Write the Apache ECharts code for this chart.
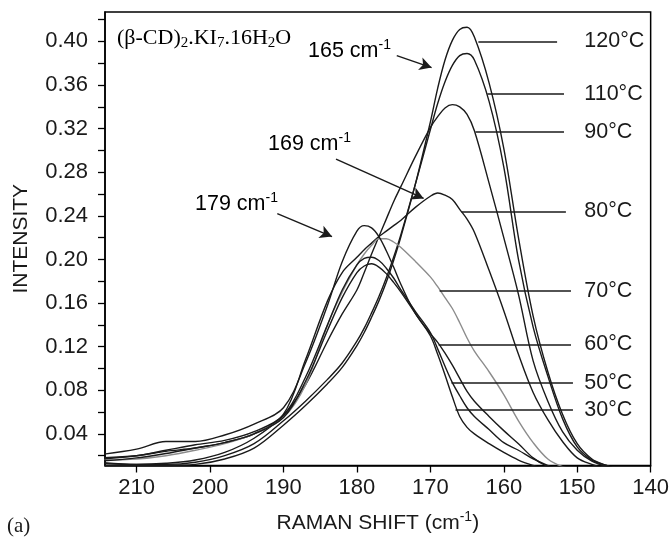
<!DOCTYPE html>
<html>
<head>
<meta charset="utf-8">
<script src="https://cdn.jsdelivr.net/npm/echarts@6/dist/echarts.min.js"></script>
<style>
  html, body { margin: 0; padding: 0; background: #fff; }
  #chart { width: 672px; height: 539px; }
</style>
</head>
<body>
<div id="chart"></div>
<script>
// raman shift grid (cm-1), shared by all curves
const shift = [215, 210, 206, 202, 198, 194, 190, 187, 184, 182, 180, 179, 178, 177, 176, 175, 174, 172, 170, 169, 168, 167, 166, 165, 164, 162, 160, 158, 156, 154, 152, 150, 148, 146, 144];

// intensity, one list per temperature
const t120 = [0.011, 0.011, 0.011, 0.012, 0.017, 0.027, 0.048, 0.066, 0.086, 0.101, 0.121, 0.133, 0.147, 0.162, 0.179, 0.199, 0.221, 0.270, 0.326, 0.357, 0.383, 0.401, 0.411, 0.413, 0.404, 0.362, 0.302, 0.220, 0.148, 0.097, 0.058, 0.031, 0.017, 0.011, 0.006];
const t110 = [0.014, 0.012, 0.012, 0.014, 0.020, 0.031, 0.052, 0.070, 0.090, 0.105, 0.125, 0.137, 0.151, 0.166, 0.183, 0.202, 0.223, 0.270, 0.319, 0.343, 0.363, 0.378, 0.387, 0.389, 0.383, 0.345, 0.285, 0.200, 0.138, 0.093, 0.054, 0.028, 0.016, 0.011, 0.006];
const t90 = [0.013, 0.012, 0.013, 0.016, 0.023, 0.036, 0.057, 0.085, 0.125, 0.150, 0.172, 0.188, 0.205, 0.221, 0.237, 0.253, 0.267, 0.295, 0.321, 0.331, 0.339, 0.342, 0.340, 0.333, 0.318, 0.270, 0.220, 0.168, 0.107, 0.070, 0.042, 0.025, 0.015, 0.010, 0.006];
const t80 = [0.018, 0.020, 0.024, 0.027, 0.032, 0.040, 0.058, 0.108, 0.162, 0.188, 0.202, 0.209, 0.215, 0.221, 0.226, 0.231, 0.236, 0.248, 0.258, 0.261, 0.259, 0.255, 0.246, 0.237, 0.225, 0.190, 0.153, 0.113, 0.078, 0.053, 0.033, 0.018, 0.012, 0.008, 0.005];
const t70 = [0.016, 0.017, 0.020, 0.025, 0.031, 0.040, 0.055, 0.085, 0.140, 0.170, 0.195, 0.205, 0.213, 0.219, 0.219, 0.216, 0.211, 0.198, 0.184, 0.175, 0.165, 0.155, 0.142, 0.128, 0.116, 0.097, 0.076, 0.052, 0.032, 0.017, 0.010, 0.007, 0.005, 0.005, 0.005];
const t60 = [0.021, 0.026, 0.033, 0.033, 0.039, 0.049, 0.064, 0.105, 0.158, 0.198, 0.226, 0.231, 0.229, 0.221, 0.208, 0.193, 0.177, 0.150, 0.132, 0.124, 0.114, 0.103, 0.091, 0.079, 0.070, 0.056, 0.043, 0.031, 0.018, 0.010, 0.006, 0.005, 0.005, 0.005, 0.005];
const t50 = [0.017, 0.020, 0.025, 0.030, 0.034, 0.042, 0.057, 0.092, 0.140, 0.172, 0.195, 0.201, 0.202, 0.199, 0.192, 0.183, 0.172, 0.152, 0.133, 0.118, 0.102, 0.087, 0.075, 0.064, 0.056, 0.044, 0.032, 0.025, 0.017, 0.011, 0.006, 0.005, 0.005, 0.005, 0.005];
const t30 = [0.015, 0.018, 0.022, 0.027, 0.032, 0.040, 0.055, 0.088, 0.135, 0.165, 0.188, 0.194, 0.196, 0.193, 0.187, 0.179, 0.170, 0.150, 0.130, 0.113, 0.094, 0.074, 0.056, 0.046, 0.040, 0.031, 0.023, 0.016, 0.011, 0.007, 0.005, 0.005, 0.005, 0.005, 0.005];

const temps = ['120°C', '110°C', '90°C', '80°C', '70°C', '60°C', '50°C', '30°C'];
const curves = [t120, t110, t90, t80, t70, t60, t50, t30];

// tick labels
const xTicks = [210, 200, 190, 180, 170, 160, 150, 140];
const yLabels = [0.04, 0.08, 0.12, 0.16, 0.20, 0.24, 0.28, 0.32, 0.36, 0.40];
const yTicks = [0.02, 0.04, 0.06, 0.08, 0.10, 0.12, 0.14, 0.16, 0.18, 0.20, 0.22, 0.24, 0.26, 0.28, 0.30, 0.32, 0.34, 0.36, 0.38, 0.40, 0.42];

// leader lines to the temperature labels (data coords)
const leaderY = [0.400, 0.352, 0.317, 0.244, 0.171, 0.122, 0.087, 0.062];
const leaderFrom = [163.46, 162.24, 163.86, 165.76, 168.74, 168.88, 167.12, 166.57];
const leaderTo = [152.74, 151.80, 151.80, 151.54, 150.85, 150.85, 150.58, 150.58];
const labelX = 149.1;

// peak arrows
const arrows = [
  [[174.57, 0.387], [169.83, 0.376]],
  [[182.84, 0.292], [170.91, 0.256]],
  [[190.84, 0.242], [183.39, 0.221]]
];

const sans = 'Liberation Sans';
const serif = 'Liberation Serif';
const ink = '#1a1a1a';

const chart = echarts.init(document.getElementById('chart'));

/*曲线*/
const series = curves.map((vals, i) => ({
  name: temps[i],
  type: 'line',
  data: shift.map((x, k) => [x, vals[k]]),
  smooth: 0.35,
  showSymbol: false,
  clip: true,
  silent: true,
  lineStyle: { color: temps[i] === '70°C' ? '#8c8c8c' : ink, width: 1.4 },
  markLine: {
    silent: true,
    symbol: ['none', 'none'],
    label: { show: false },
    lineStyle: { color: ink, width: 1.6, type: 'solid' },
    data: [[{ coord: [leaderFrom[i], leaderY[i]] }, { coord: [leaderTo[i], leaderY[i]] }]]
  },
  markPoint: {
    silent: true,
    symbol: 'circle',
    symbolSize: 1,
    itemStyle: { color: 'rgba(0,0,0,0)' },
    label: {
      show: true,
      position: 'right',
      distance: 0,
      formatter: temps[i],
      fontFamily: sans,
      fontSize: 21.5,
      color: ink
    },
    data: [{ coord: [labelX, leaderY[i]] }]
  }
}));

series.push({
  name: 'arrows',
  type: 'line',
  data: [],
  silent: true,
  markLine: {
    silent: true,
    symbol: ['none', 'arrow'],
    symbolSize: [10, 12],
    label: { show: false },
    lineStyle: { color: ink, width: 1.5, type: 'solid' },
    data: arrows.map(a => [{ coord: a[0] }, { coord: a[1] }])
  }
});

const supRich = {
  n: { fontFamily: sans, fontSize: 21.5, color: ink, lineHeight: 26, verticalAlign: 'middle' },
  s: { fontFamily: sans, fontSize: 14, color: ink, lineHeight: 14, verticalAlign: 'top' }
};
const nameRich = {
  n: { fontFamily: sans, fontSize: 21, color: ink, lineHeight: 26, verticalAlign: 'middle' },
  s: { fontFamily: sans, fontSize: 14, color: ink, lineHeight: 14, verticalAlign: 'top' }
};

const option = {
  animation: false,
  backgroundColor: '#fff',
  grid: {
    left: 105, right: 19, top: 12, bottom: 70,
    show: true, borderColor: '#000', borderWidth: 1.5, backgroundColor: 'transparent'
  },
  xAxis: {
    type: 'value',
    min: 140,
    max: 214.3,
    inverse: true,
    name: '{n|RAMAN SHIFT (cm}{s|-1}{n|)}',
    nameLocation: 'middle',
    nameGap: 45,
    nameTextStyle: { rich: nameRich },
    axisLine: { show: true, onZero: false, lineStyle: { color: '#000', width: 1.5 } },
    axisTick: { show: true, inside: false, length: 7, customValues: xTicks, lineStyle: { color: '#000', width: 1.3 } },
    axisLabel: { customValues: xTicks, margin: 11, fontFamily: sans, fontSize: 22, color: ink, showMinLabel: true, showMaxLabel: true },
    splitLine: { show: false }
  },
  yAxis: {
    type: 'value',
    min: 0.011,
    max: 0.427,
    name: 'INTENSITY',
    nameLocation: 'middle',
    nameGap: 73,
    nameRotate: 90,
    nameTextStyle: { fontFamily: sans, fontSize: 21, color: ink },
    axisLine: { show: true, onZero: false, lineStyle: { color: '#000', width: 1.5 } },
    axisTick: { show: true, inside: false, length: 7, customValues: yTicks, lineStyle: { color: '#000', width: 1.3 } },
    axisLabel: { customValues: yLabels, margin: 17, fontFamily: sans, fontSize: 22, color: ink, formatter: v => v.toFixed(2) },
    splitLine: { show: false }
  },
  graphic: [
    {
      type: 'text', x: 117, y: 25, silent: true,
      style: {
        text: '{m|(β-CD)}{b|2}{m|.KI}{b|7}{m|.16H}{b|2}{m|O}',
        rich: {
          m: { fontFamily: serif, fontSize: 22, color: ink, lineHeight: 26, verticalAlign: 'middle' },
          b: { fontFamily: serif, fontSize: 15, color: ink, lineHeight: 15, verticalAlign: 'bottom' }
        }
      }
    },
    { type: 'text', x: 308, y: 38, silent: true, style: { text: '{n|165 cm}{s|-1}', rich: supRich } },
    { type: 'text', x: 268, y: 131, silent: true, style: { text: '{n|169 cm}{s|-1}', rich: supRich } },
    { type: 'text', x: 195, y: 191, silent: true, style: { text: '{n|179 cm}{s|-1}', rich: supRich } },
    { type: 'text', x: 7, y: 516, silent: true, style: { text: '(a)', font: '21px "Liberation Serif"', fill: ink } }
  ],
  series: series
};

chart.setOption(option);
</script>
</body>
</html>
